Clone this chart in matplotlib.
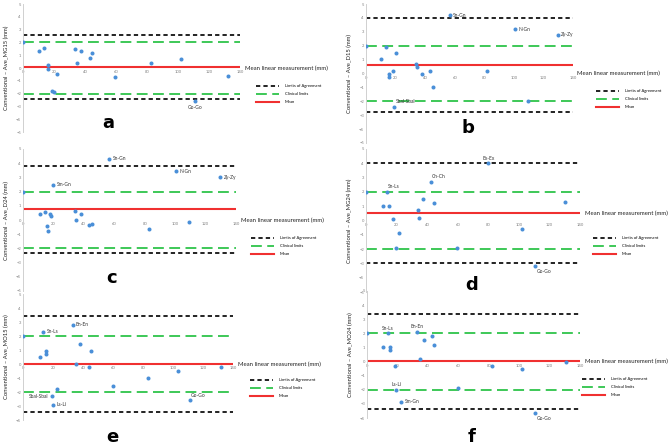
import matplotlib.pyplot as plt

plt.rcParams['font.family'] = ['Lato', 'DejaVu Sans']

W, H = 671, 445

# a: Ave_MG15
x_a = [0, 10.5, 13.8, 15.9, 15.9, 18.9, 19.8, 21.7, 33.5, 35, 37.6, 43.2, 44.5, 59.4, 82.6, 101.9, 111, 132.3]
y_a = [2.0, 1.3, 1.6, 0.2, -0.1, -1.8, -1.9, -0.5, 1.5, 0.4, 1.3, 0.8, 1.2, -0.7, 0.4, 0.7, -2.6, -0.6]
names_a = {16: "Go-Go"}
mean_a, loa_a = 0.05, (2.55, -2.45)

# b: Ave_D15
x_b = [0, 10.4, 13.3, 15.3, 15.5, 18.2, 19.1, 20, 33.8, 34.7, 38.1, 43.5, 45.3, 56.5, 82, 100.5, 109.9, 129.7]
y_b = [2.0, 1.05, 1.9, 0.0, -0.25, 0.2, -2.4, 1.5, 0.65, 0.45, -0.05, 0.2, -1.0, 4.2, 0.15, 3.2, -2.0, 2.8]
names_b = {6: "Sbal-Sbal", 13: "Sn-Gn", 15: "N-Gn", 17: "Zy-Zy"}
mean_b, loa_b = 0.63, (4.0, -2.8)

# c: Ave_D24
x_c = [0, 11.4, 14.5, 16, 16.2, 17.8, 18.4, 20, 34, 35.1, 38.2, 43.7, 45.2, 56.6, 82.7, 100.3, 109, 129.7]
y_c = [2.0, 0.45, 0.55, -0.45, -0.75, 0.4, 0.25, 2.5, 0.6, 0.0, 0.4, -0.35, -0.25, 4.3, -0.65, 3.45, -0.15, 3.0]
names_c = {7: "Sm-Gn", 13: "Sn-Gn", 15: "N-Gn", 17: "Zy-Zy"}
mean_c, loa_c = 0.8, (3.8, -2.3)

# d: Ave_MG24
x_d = [0, 10.9, 13.5, 15.3, 17.9, 19.4, 21.8, 33.8, 34.7, 37.3, 42.3, 44.5, 59.7, 80, 102.3, 110.6, 130.4]
y_d = [2.0, 1.0, 2.0, 1.0, 0.1, -1.9, -0.9, 0.7, 0.2, 1.5, 2.7, 1.2, -1.9, 4.0, -0.6, -3.2, 1.3]
names_d = {2: "Sn-Ls", 10: "Ch-Ch", 13: "Ex-Ex", 15: "Go-Go"}
mean_d, loa_d = 0.5, (4.0, -3.0)

# e: Ave_MO15
x_e = [0, 11.3, 13.5, 15.3, 15.5, 19.1, 20.2, 22.6, 33, 35.3, 37.7, 43.7, 45, 60.1, 83, 103, 111, 132]
y_e = [2.0, 0.5, 2.3, 0.9, 0.7, -2.3, -2.9, -1.8, 2.8, 0.0, 1.4, -0.2, 0.9, -1.6, -1.0, -0.5, -2.6, -0.2]
names_e = {2: "Sn-Ls", 5: "Sbal-Sbal", 6: "Ls-Li", 8: "En-En", 16: "Go-Go"}
mean_e, loa_e = 0.0, (3.4, -3.4)

# f: Ave_MO24
x_f = [0, 10.8, 13.6, 15.1, 15.1, 18.2, 19.3, 22.6, 32.9, 34.9, 37.3, 42.4, 44.3, 59.7, 82, 102, 110.4, 130.6]
y_f = [2.0, 1.0, 2.0, 1.0, 0.8, -0.3, -2.0, -2.85, 2.1, 0.2, 1.5, 1.8, 1.2, -1.9, -0.3, -0.5, -3.65, 0.0]
names_f = {2: "Sn-Ls", 6: "Ls-Li", 7: "Sm-Gn", 8: "En-En", 16: "Go-Go"}
mean_f, loa_f = 0.05, (3.4, -3.35)

clinical = 2
xticks = [0, 20, 40, 60, 80, 100, 120, 140]

# where each point label sits relative to its point
OFFS = {
    "r": ((2.5, 0), "left", "center"),
    "l": ((-2.5, 0), "right", "center"),
    "b": ((0, -2.5), "center", "top"),
    "a": ((0, 2), "center", "bottom"),
    "ar": ((1, 2), "left", "bottom"),
    "br": ((1, -2), "left", "top"),
}

# (px rect: x0, y_top, x1, y_bottom), ylim bottom, title y, legend px, letter px
panels = [
    (x_a, y_a, names_a, {"Go-Go": "b"}, mean_a, loa_a, "Ave_MG15", "a",
     (23, 4, 240, 132), -5, 0, (256, 84), (108, 123)),
    (x_b, y_b, names_b, {"Sbal-Sbal": "ar", "Sn-Gn": "r", "N-Gn": "r", "Zy-Zy": "r"}, mean_b, loa_b, "Ave_D15", "b",
     (366, 4, 573, 143), -5, 0, (596, 89), (468, 128)),
    (x_c, y_c, names_c, {"Sm-Gn": "r", "Sn-Gn": "r", "N-Gn": "r", "Zy-Zy": "r"}, mean_c, loa_c, "Ave_D24", "c",
     (23, 149, 236, 291), -5, 0, (251, 236), (112, 278)),
    (x_d, y_d, names_d, {"Sn-Ls": "ar", "Ch-Ch": "ar", "Ex-Ex": "a", "Go-Go": "br"}, mean_d, loa_d, "Ave_MG24", "d",
     (366, 149, 580, 292), -5, 0.5, (593, 236), (472, 285)),
    (x_e, y_e, names_e, {"Sn-Ls": "r", "Sbal-Sbal": "l", "Ls-Li": "r", "En-En": "r", "Go-Go": "ar"}, mean_e, loa_e, "Ave_MO15", "e",
     (23, 294, 233, 420), -4, 0, (250, 378), (112, 437)),
    (x_f, y_f, names_f, {"Sn-Ls": "a", "Ls-Li": "a", "Sm-Gn": "r", "En-En": "a", "Go-Go": "br"}, mean_f, loa_f, "Ave_MO24", "f",
     (367, 291, 580, 418), -4, 0, (582, 377), (472, 437)),
]

fig = plt.figure(figsize=(W / 100, H / 100), dpi=100)

for (xs, ys, names, place, mean, loa, yname, letter, rect, ybot, ty, legpos, letpos) in panels:
    x0, yt, x1, yb = rect
    ax = fig.add_axes([x0 / W, 1 - yb / H, (x1 - x0) / W, (yb - yt) / H])
    ax.set_xlim(0, 140)
    ax.set_ylim(ybot, 5)

    l1, = ax.plot([0, 140], [loa[0]] * 2, color="#222222", lw=1.4, ls=(0, (2.2, 1.6)))
    ax.plot([0, 140], [loa[1]] * 2, color="#222222", lw=1.4, ls=(0, (2.2, 1.6)))
    l2, = ax.plot([0, 140], [clinical] * 2, color="#2ec44a", lw=1.3, ls=(0, (6, 3)))
    ax.plot([0, 140], [-clinical] * 2, color="#2ec44a", lw=1.3, ls=(0, (6, 3)))
    l3, = ax.plot([0, 140], [mean] * 2, color="#f03030", lw=1.5)

    ax.plot(xs, ys, "o", color="#4a8fd8", ms=2.9, mec="none", zorder=5)

    for i, name in names.items():
        (dx, dy), ha, va = OFFS[place[name]]
        ax.annotate(name, (xs[i], ys[i]), xytext=(dx, dy), textcoords="offset points",
                    ha=ha, va=va, fontsize=3.5, color="#333333")

    for s in ["top", "right"]:
        ax.spines[s].set_visible(False)
    ax.spines["left"].set_color("#d0d0d0")
    ax.spines["left"].set_linewidth(0.7)
    ax.spines["bottom"].set_position(("data", 0))
    ax.spines["bottom"].set_visible(False)

    ax.set_xticks(xticks)
    ax.set_yticks(range(ybot, 6))
    ax.tick_params(length=0, labelsize=3, labelcolor="#808080", pad=1.5)

    ax.text(143, ty, "Mean linear measurement (mm)", fontsize=4.3, color="#222222",
            va="center", ha="left", clip_on=False)
    ax.set_ylabel("Conventional \u2013 " + yname + " (mm)", fontsize=4.2, color="#222222", labelpad=5)

    fig.legend([l1, l2, l3], ["Limits of Agreement", "Clinical limits", "Mean"],
               loc="upper left", bbox_to_anchor=(legpos[0] / W, 1 - legpos[1] / H),
               frameon=False, fontsize=3, handlelength=5.5, handletextpad=1.4,
               labelspacing=1.0, borderpad=0, borderaxespad=0)

    fig.text(letpos[0] / W, 1 - letpos[1] / H, letter, fontsize=13, fontweight="bold",
             ha="center", va="center", family=["DejaVu Sans"])

fig.savefig("out.png", dpi=100)
